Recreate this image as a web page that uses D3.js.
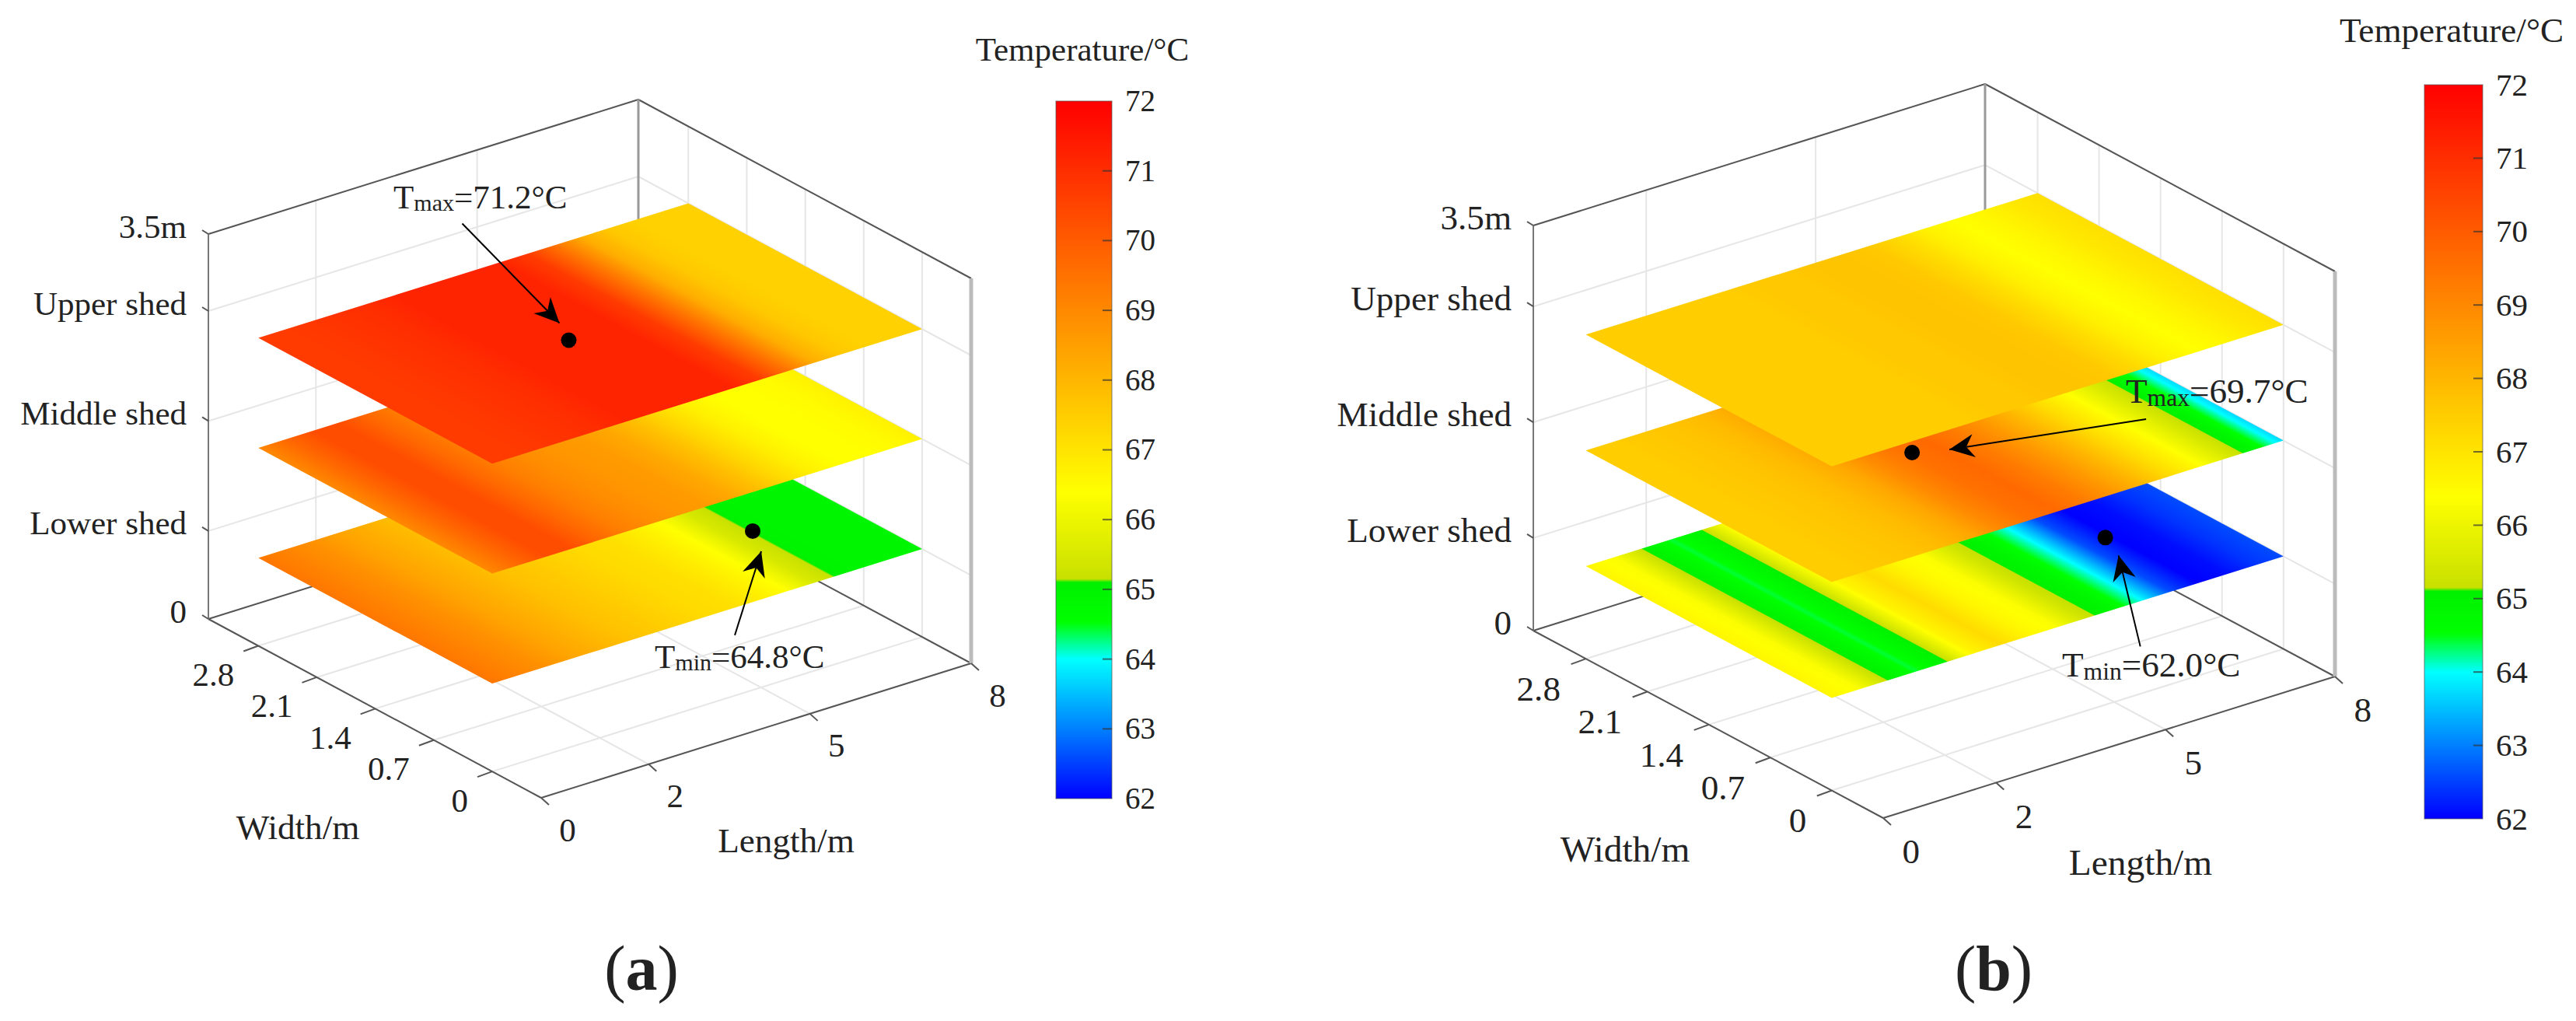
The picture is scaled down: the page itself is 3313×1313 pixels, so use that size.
<!DOCTYPE html>
<html>
<head>
<meta charset="utf-8">
<script src="https://cdn.jsdelivr.net/npm/d3@7"></script>
<style>
  html, body { margin: 0; background: #fff; }
  text { font-family: "Liberation Serif", serif; fill: #222; }
</style>
</head>
<body>
<script>
const lengths = [0, 0.5, 1, 1.5, 2, 2.5, 3, 3.5, 4, 4.5, 5, 5.5, 6, 6.5, 7, 7.5, 8]

// temperature along the shed length, one row per shed
const aLower  = [69.4, 69.1, 68.8, 68.4, 68.1, 67.8, 67.6, 67.4, 67.2, 67.1, 66.8, 66.4, 65.5, 65.0, 64.9, 64.9, 64.9]
const aMiddle = [69.0, 69.7, 70.3, 70.3, 69.7, 69.2, 68.9, 68.7, 68.6, 68.3, 67.8, 67.2, 66.7, 66.4, 66.4, 66.5, 66.7]
const aUpper  = [70.7, 70.7, 70.8, 70.9, 71.0, 71.2, 71.2, 71.2, 71.2, 71.2, 70.7, 69.5, 68.2, 67.6, 67.4, 67.4, 67.4]
const bLower  = [66.6, 66.3, 65.1, 64.42, 65.0, 66.6, 67.2, 66.6, 66.3, 65.3, 64.8, 64.0, 62.6, 62.0, 62.1, 62.4, 62.6]
const bMiddle = [67.5, 67.5, 67.6, 67.7, 67.9, 68.3, 69.0, 69.5, 69.7, 69.3, 68.7, 68.0, 67.2, 66.5, 65.6, 64.8, 63.7]
const bUpper  = [67.5, 67.5, 67.5, 67.5, 67.5, 67.5, 67.6, 67.6, 67.7, 67.7, 67.6, 67.2, 66.7, 66.4, 66.6, 66.9, 67.1]

const shedHeights = [0.8, 1.8, 2.8]
const shedWidth = [0, 2.8]

const lengthTicks = [0, 2, 5, 8]
const widthTicks = [0, 0.7, 1.4, 2.1, 2.8]
const heightTicks = [0, 0.8, 1.8, 2.8, 3.5]
const heightLabels = ["0", "Lower shed", "Middle shed", "Upper shed", "3.5m"]
const tempTicks = [62, 63, 64, 65, 66, 67, 68, 69, 70, 71, 72]

// colour map
const colorTemps = [62, 64, 64.53, 65.14, 65.15, 66.4, 72]
const colorValues = ["#0000ff", "#00ffff", "#00ff00", "#00f000", "#c8e000", "#ffff00", "#ff0000"]

const color = d3.scaleLinear().domain(colorTemps).range(colorValues).clamp(true)
const sL = d3.scaleLinear().domain([0, 8]).range([0, 1])
const sW = d3.scaleLinear().domain([-0.586, 3.398]).range([0, 1])
const sZ = d3.scaleLinear().domain([0, 3.5]).range([0, 1])

const panels = [
  {
    id: "a", rows: [aLower, aMiddle, aUpper], k: 1,
    origin: [696, 1026], lenVec: [553, -173], widVec: [-428, -230], zVec: -495,
    bar: { x: 1358, w: 72, top: 130, bottom: 1027, titleX: 1392, titleY: 63 },
    widthTitle: [383, 1064], lengthTitle: [1011, 1081], caption: [825, 1245],
    notes: [
      { shed: 2, at: [3.6, 1.4], name: "max", value: "=71.2°C", from: [-137, -150], tip: [-12, -22], text: [506, 253] },
      { shed: 0, at: [6.4, 1.0], name: "min", value: "=64.8°C", from: [-23, 134], tip: [11, 26], text: [842, 844] }
    ]
  },
  {
    id: "b", rows: [bLower, bMiddle, bUpper], k: 1.05,
    origin: [2422, 1052], lenVec: [581, -182], widVec: [-450, -241], zVec: -521,
    bar: { x: 3118, w: 75, top: 109, bottom: 1053, titleX: 3153, titleY: 39 },
    widthTitle: [2090, 1092], lengthTitle: [2753, 1109], caption: [2564, 1245],
    notes: [
      { shed: 1, at: [3.6, 1.4], name: "max", value: "=69.7°C", from: [301, -43], tip: [48, -4], text: [2734, 503] },
      { shed: 0, at: [6.4, 1.0], name: "min", value: "=62.0°C", from: [45, 140], tip: [17, 23], text: [2652, 855] }
    ]
  }
]

const svg = d3.select("body").append("svg")
  .attr("width", 3313)
  .attr("height", 1313)
const defs = svg.append("defs")

panels.forEach(drawPanel)

function drawPanel(p) {
  const g = svg.append("g")
  const fontSize = 43 * p.k

  const project = (l, w, z) => [
    p.origin[0] + p.lenVec[0] * sL(l) + p.widVec[0] * sW(w),
    p.origin[1] + p.lenVec[1] * sL(l) + p.widVec[1] * sW(w) + p.zVec * sZ(z)
  ]
  const line = (g, a, b) => g.append("line")
    .attr("x1", a[0]).attr("y1", a[1])
    .attr("x2", b[0]).attr("y2", b[1])

  const lMax = sL.domain()[1]
  const wMin = sW.domain()[0], wMax = sW.domain()[1]
  const zMax = sZ.domain()[1]

  // grid on the floor and the two back walls
  const gGrid = g.append("g").attr("stroke", "#e6e6e6").attr("stroke-width", 2)
  lengthTicks.slice(1, 3).forEach(l => {
    line(gGrid, project(l, wMin, 0), project(l, wMax, 0))
    line(gGrid, project(l, wMax, 0), project(l, wMax, zMax))
  })
  widthTicks.forEach(w => {
    line(gGrid, project(0, w, 0), project(lMax, w, 0))
    line(gGrid, project(lMax, w, 0), project(lMax, w, zMax))
  })
  heightTicks.slice(1, 4).forEach(z => {
    line(gGrid, project(0, wMax, z), project(lMax, wMax, z))
    line(gGrid, project(lMax, wMax, z), project(lMax, wMin, z))
  })

  // box edges
  const gBox = g.append("g").attr("stroke", "#555").attr("stroke-width", 2)
  line(gBox, project(0, wMax, zMax), project(lMax, wMax, zMax))
  line(gBox, project(lMax, wMax, zMax), project(lMax, wMin, zMax))
  line(gBox, project(0, wMax, 0), project(0, wMin, 0))
  line(gBox, project(0, wMin, 0), project(lMax, wMin, 0))
  line(gBox, project(0, wMax, 0), project(lMax, wMax, 0))
  line(gBox, project(lMax, wMax, 0), project(lMax, wMin, 0))
  line(gBox, project(0, wMax, 0), project(0, wMax, zMax)).attr("stroke", "#777")
  line(gBox, project(lMax, wMax, 0), project(lMax, wMax, zMax)).attr("stroke", "#999").attr("stroke-width", 3)
  line(gBox, project(lMax, wMin, 0), project(lMax, wMin, zMax)).attr("stroke", "#bbb").attr("stroke-width", 5)

  // tick marks
  const gTicks = g.append("g").attr("stroke", "#555").attr("stroke-width", 2)
  lengthTicks.forEach(l => {
    const a = project(l, wMin, 0)
    line(gTicks, a, [a[0] + 10, a[1] + 9])
  })
  widthTicks.forEach(w => {
    const a = project(0, w, 0)
    line(gTicks, a, [a[0] - 19, a[1] + 7])
  })
  heightTicks.forEach(z => {
    const a = project(0, wMax, z)
    line(gTicks, a, [a[0] - 8, a[1] - 5])
  })

  // tick labels
  const gLabels = g.append("g").attr("font-size", fontSize).attr("dominant-baseline", "central")
  lengthTicks.forEach(l => {
    const a = project(l, wMin, 0)
    gLabels.append("text")
      .attr("x", a[0] + 34 * p.k).attr("y", a[1] + 41 * p.k)
      .attr("text-anchor", "middle").text(l)
  })
  widthTicks.forEach(w => {
    const a = project(0, w, 0)
    gLabels.append("text")
      .attr("x", a[0] - 31 * p.k).attr("y", a[1] + 37 * p.k)
      .attr("text-anchor", "end").text(w)
  })
  heightTicks.forEach((z, i) => {
    const a = project(0, wMax, z)
    gLabels.append("text")
      .attr("x", a[0] - 28).attr("y", a[1] - 10)
      .attr("text-anchor", "end").text(heightLabels[i])
  })
  gLabels.append("text").attr("x", p.widthTitle[0]).attr("y", p.widthTitle[1])
    .attr("text-anchor", "middle").attr("font-size", fontSize * 1.05).text("Width/m")
  gLabels.append("text").attr("x", p.lengthTitle[0]).attr("y", p.lengthTitle[1])
    .attr("text-anchor", "middle").attr("font-size", fontSize * 1.05).text("Length/m")

  // shed planes, lowest first so the upper ones cover them
  p.rows.forEach((row, i) => {
    const z = shedHeights[i]
    const id = `grad-${p.id}-${i}`
    const grad = defs.append("linearGradient").attr("id", id)
      .attr("x1", 0).attr("y1", 0).attr("x2", 1).attr("y2", 0)
    row.slice(1).forEach((t1, j) => {
      const t0 = row[j]
      d3.range(0, 1.001, 1 / 24).forEach(f => {
        const t = t0 + (t1 - t0) * f
        const off = sL(lengths[j] + (lengths[j + 1] - lengths[j]) * f)
        grad.append("stop").attr("offset", off).attr("stop-color", color(t))
      })
    })
    const c0 = project(0, shedWidth[0], z)
    const c1 = project(lMax, shedWidth[0], z)
    const c2 = project(0, shedWidth[1], z)
    g.append("rect")
      .attr("width", 1).attr("height", 1)
      .attr("transform", `matrix(${c1[0] - c0[0]} ${c1[1] - c0[1]} ${c2[0] - c0[0]} ${c2[1] - c0[1]} ${c0[0]} ${c0[1]})`)
      .attr("fill", `url(#${id})`)

    p.notes.filter(n => n.shed === i).forEach(n => {
      const d = project(n.at[0], n.at[1], z)
      g.append("ellipse").attr("cx", d[0]).attr("cy", d[1])
        .attr("rx", 10).attr("ry", 10).attr("fill", "#000")
    })
  })

  // annotations
  p.notes.forEach(n => {
    const d = project(n.at[0], n.at[1], shedHeights[n.shed])
    const from = [d[0] + n.from[0], d[1] + n.from[1]]
    const tip = [d[0] + n.tip[0], d[1] + n.tip[1]]
    line(g, from, tip).attr("stroke", "#000").attr("stroke-width", 2)
    const ang = Math.atan2(tip[1] - from[1], tip[0] - from[0]) * 180 / Math.PI
    g.append("path")
      .attr("d", "M0,0L-32,-15L-22,0L-32,15Z")
      .attr("transform", `translate(${tip[0]},${tip[1]}) rotate(${ang})`)
      .attr("fill", "#000")

    const t = g.append("text")
      .attr("x", n.text[0]).attr("y", n.text[1])
      .attr("dominant-baseline", "central")
      .attr("font-size", fontSize)
    t.append("tspan").text("T")
    t.append("tspan").attr("font-size", fontSize * 0.7).attr("dy", "0.25em").text(n.name)
    t.append("tspan").attr("dy", "-0.175em").text(n.value)
  })

  // colour bar
  const yBar = d3.scaleLinear().domain([62, 72]).range([p.bar.bottom, p.bar.top])
  const barId = `bar-${p.id}`
  const barGrad = defs.append("linearGradient").attr("id", barId)
    .attr("x1", 0).attr("y1", 1).attr("x2", 0).attr("y2", 0)
  d3.range(62, 72.001, 0.05).forEach(t => {
    barGrad.append("stop").attr("offset", (t - 62) / 10).attr("stop-color", color(t))
  })
  g.append("rect")
    .attr("x", p.bar.x).attr("y", p.bar.top)
    .attr("width", p.bar.w).attr("height", p.bar.bottom - p.bar.top)
    .attr("fill", `url(#${barId})`)
    .attr("stroke", "#555").attr("stroke-opacity", 0.5).attr("stroke-width", 1.5)

  const gBarTicks = g.append("g").attr("stroke", "#333").attr("stroke-opacity", 0.7).attr("stroke-width", 2)
  tempTicks.slice(1, -1).forEach(t => {
    line(gBarTicks, [p.bar.x + p.bar.w - 12, yBar(t)], [p.bar.x + p.bar.w, yBar(t)])
  })

  const axis = d3.axisRight(yBar).tickValues(tempTicks).tickSize(0).tickPadding(17)
  const gAxis = g.append("g")
    .attr("transform", `translate(${p.bar.x + p.bar.w},0)`)
    .call(axis)
  gAxis.select(".domain").remove()
  gAxis.selectAll("text")
    .attr("font-size", 39 * p.k)
    .attr("font-family", "Liberation Serif")
    .attr("fill", "#333")

  g.append("text").attr("x", p.bar.titleX).attr("y", p.bar.titleY)
    .attr("text-anchor", "middle").attr("dominant-baseline", "central")
    .attr("font-size", fontSize).text("Temperature/°C")

  // panel caption
  const cap = g.append("text").attr("x", p.caption[0]).attr("y", p.caption[1])
    .attr("text-anchor", "middle").attr("dominant-baseline", "central")
    .attr("font-size", 82).attr("fill", "#000")
  cap.append("tspan").text("(")
  cap.append("tspan").attr("font-weight", "bold").text(p.id)
  cap.append("tspan").text(")")
}
</script>
</body>
</html>
